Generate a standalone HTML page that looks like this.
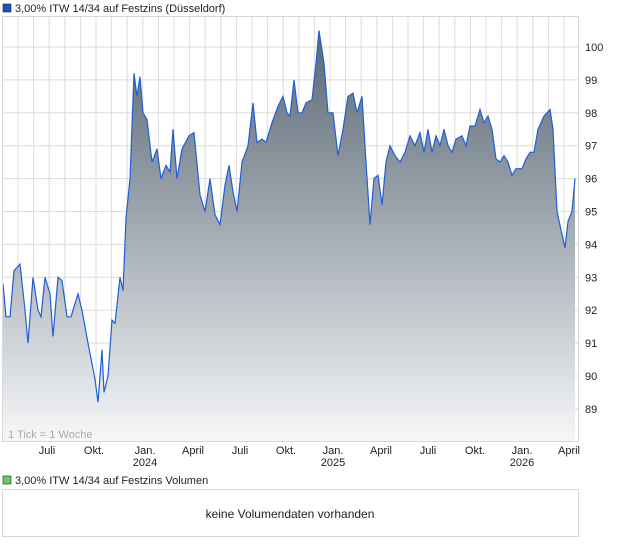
<!DOCTYPE html>
<html><head><meta charset="utf-8"><style>
body{margin:0;background:#fff;width:620px;height:546px;overflow:hidden;font-family:"Liberation Sans",sans-serif}
svg{display:block}
text{font-family:"Liberation Sans",sans-serif;font-size:11px;fill:#222}
</style></head><body>
<svg id="s" width="620" height="546" xmlns="http://www.w3.org/2000/svg">
<defs><linearGradient id="g" gradientUnits="userSpaceOnUse" x1="0" y1="30" x2="0" y2="441">
<stop offset="0" stop-color="#5a6873"/><stop offset="0.5" stop-color="#a5adb5"/><stop offset="1" stop-color="#f6f7f8"/></linearGradient></defs>
<rect x="3" y="4" width="8" height="8" fill="#1a56c4" stroke="#222" stroke-width="0.6"/>
<text x="15" y="12">3,00% ITW 14/34 auf Festzins (Düsseldorf)</text>
<g id="grid" stroke="#dcdcdc" stroke-width="1"></g>
<path id="area" fill="url(#g)"/>
<path id="line" fill="none" stroke="#1f5fd6" stroke-width="1.2"/>
<rect x="2.5" y="16.5" width="576" height="425" fill="none" stroke="#d8d8d8"/>
<g id="lab"></g>
<text x="8" y="438" style="fill:#aaa">1 Tick = 1 Woche</text>
<rect x="3" y="476" width="8" height="8" fill="#6c6" stroke="#222" stroke-width="0.6"/>
<text x="15" y="484">3,00% ITW 14/34 auf Festzins Volumen</text>
<rect x="2.5" y="489.5" width="576" height="47" fill="none" stroke="#d8d8d8"/>
<text x="290" y="518" text-anchor="middle" style="font-size:12px">keine Volumendaten vorhanden</text>
</svg>
<script>
var Y=function(v){return 47+(100-v)*32.9};
var ns="http://www.w3.org/2000/svg",grid=document.getElementById('grid'),lab=document.getElementById('lab');
function el(p,t,a,tx){var e=document.createElementNS(ns,t);for(var k in a)e.setAttribute(k,a[k]);if(tx)e.textContent=tx;p.appendChild(e);return e}
for(var v=89;v<=100;v++){var y=Y(v);el(grid,'line',{x1:3,x2:578,y1:y,y2:y});el(lab,'text',{x:585,y:y+4},String(v));}
for(var x=18;x<578;x+=15.6){el(grid,'line',{x1:x,x2:x,y1:17,y2:441});}
var m=[[47,"Juli"],[94,"Okt."],[145,"Jan.","2024"],[193,"April"],[240,"Juli"],[286,"Okt."],[333,"Jan.","2025"],[381,"April"],[428,"Juli"],[475,"Okt."],[522,"Jan.","2026"],[569,"April"]];
m.forEach(function(a){el(lab,'text',{x:a[0],y:454,'text-anchor':'middle'},a[1]);if(a[2])el(lab,'text',{x:a[0],y:466,'text-anchor':'middle'},a[2]);});
var d=[3,92.8,6,91.8,10,91.8,14,93.2,20,93.4,25,92.0,28,91.0,33,93.0,38,92.0,41,91.8,45,93.0,50,92.5,53,91.2,58,93.0,62,92.9,67,91.8,71,91.8,78,92.5,82,92.0,88,91.0,95,89.9,98,89.2,102,90.8,104,89.5,108,90.0,112,91.7,115,91.6,120,93.0,123,92.6,126,94.8,130,96.0,134,99.2,137,98.5,140,99.1,143,98.0,147,97.8,152,96.5,157,96.9,161,96.0,166,96.4,170,96.2,173,97.5,177,96.0,182,96.9,189,97.3,194,97.4,200,95.5,205,95.0,210,96.0,215,94.9,220,94.6,225,95.8,229,96.4,233,95.6,237,95.0,242,96.5,248,97.0,253,98.3,257,97.1,262,97.2,266,97.1,272,97.7,278,98.2,283,98.5,287,98.0,290,97.9,294,99.0,298,98.0,302,98.0,306,98.3,312,98.4,316,99.5,319,100.5,324,99.5,328,98.0,333,98.0,338,96.7,343,97.5,348,98.5,353,98.6,357,98.0,362,98.5,366,96.5,370,94.6,374,96.0,378,96.1,382,95.2,386,96.5,390,97.0,395,96.7,400,96.5,405,96.8,410,97.3,415,97.0,420,97.4,424,96.8,428,97.5,432,96.8,436,97.3,440,97.0,444,97.5,448,97.0,452,96.8,456,97.2,462,97.3,466,97.0,470,97.6,475,97.6,480,98.1,484,97.7,488,97.9,492,97.5,496,96.6,500,96.5,504,96.7,508,96.5,512,96.1,516,96.3,522,96.3,526,96.6,530,96.8,534,96.8,538,97.5,544,97.9,550,98.1,553,97.5,557,95.0,562,94.3,565,93.9,568,94.7,572,95.0,575,96.0];
var p="";for(var i=0;i<d.length;i+=2)p+=(i?"L":"M")+d[i]+","+Y(d[i+1]).toFixed(1);
document.getElementById('line').setAttribute('d',p);
document.getElementById('area').setAttribute('d',p+"L575,441L3,441Z");
</script>
</body></html>
